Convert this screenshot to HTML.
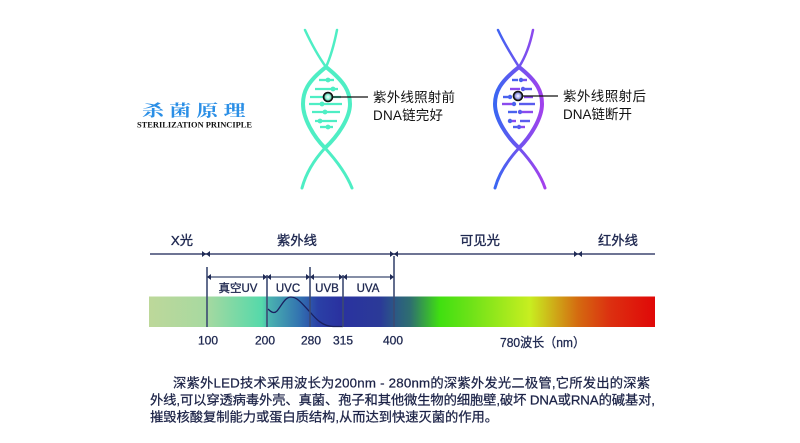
<!DOCTYPE html>
<html><head><meta charset="utf-8"><style>
html,body{margin:0;padding:0;background:#fff;}
svg{display:block;}
text{font-family:"Liberation Sans","Noto Sans CJK SC",sans-serif;}
</style></head><body>
<svg width="800" height="443" viewBox="0 0 800 443" xmlns="http://www.w3.org/2000/svg">
<defs>
<linearGradient id="spec" gradientUnits="userSpaceOnUse" x1="149" y1="0" x2="655" y2="0">
<stop offset="0" stop-color="#bdd89a"/>
<stop offset="0.111" stop-color="#a8d9a0"/>
<stop offset="0.223" stop-color="#55d9aa"/>
<stop offset="0.239" stop-color="#49b0b0"/>
<stop offset="0.298" stop-color="#3272b0"/>
<stop offset="0.334" stop-color="#2a40a6"/>
<stop offset="0.377" stop-color="#2a32a0"/>
<stop offset="0.457" stop-color="#2b3a98"/>
<stop offset="0.488" stop-color="#2b5a84"/>
<stop offset="0.516" stop-color="#2e6e70"/>
<stop offset="0.575" stop-color="#40e010"/>
<stop offset="0.634" stop-color="#6ce218"/>
<stop offset="0.753" stop-color="#c8ee20"/>
<stop offset="0.848" stop-color="#d46a10"/>
<stop offset="0.911" stop-color="#dc3010"/>
<stop offset="1" stop-color="#e00808"/>
</linearGradient>
<linearGradient id="dna2" gradientUnits="userSpaceOnUse" x1="495" y1="0" x2="545" y2="0">
<stop offset="0" stop-color="#3a66f2"/>
<stop offset="1" stop-color="#a640ec"/>
</linearGradient>
<radialGradient id="dot1"><stop offset="0" stop-color="#ffffff"/><stop offset="0.6" stop-color="#7ff0d0"/><stop offset="1" stop-color="#333"/></radialGradient>
<radialGradient id="dot2"><stop offset="0" stop-color="#ffffff"/><stop offset="0.6" stop-color="#9aa0f0"/><stop offset="1" stop-color="#333"/></radialGradient>
</defs>

<!-- Title -->
<g transform="translate(142,116) scale(1.15,0.85)">
<text x="0" y="0" font-size="19" font-weight="bold" fill="#2b8fe6" textLength="90" lengthAdjust="spacing" style="font-family:'Noto Serif CJK SC',serif;">杀菌原理</text>
</g>
<text x="137" y="127.5" font-size="8" font-weight="bold" fill="#111" textLength="115" lengthAdjust="spacingAndGlyphs" style="font-family:'Liberation Serif',serif;">STERILIZATION PRINCIPLE</text>

<!-- DNA 1 -->
<g fill="none" stroke="#4eeec4" stroke-linecap="round">
<path d="M305,30 C312,45 318,56 326,67" stroke-width="2.5"/>
<path d="M337,30 C334,45 331,56 326,67" stroke-width="2.5"/>
<path d="M326,67 C345,82 350,92 350,104 C350,118 338,136 325,148" stroke-width="4"/>
<path d="M326,67 C307,82 303,92 303,104 C303,118 313,136 325,148" stroke-width="4"/>
<path d="M325,148 C314,160 306,173 302,188" stroke-width="3"/>
<path d="M325,148 C336,160 346,173 352,188" stroke-width="3"/>
</g>
<g stroke="#4eeec4" stroke-width="2.3">
<line x1="319" y1="80" x2="334" y2="80"/>
<line x1="315" y1="89" x2="338" y2="89"/>
<line x1="310" y1="97" x2="341" y2="97"/>
<line x1="309" y1="104" x2="342" y2="104"/>
<line x1="312" y1="112" x2="340" y2="112"/>
<line x1="315" y1="121" x2="337" y2="121"/>
<line x1="320" y1="127" x2="333" y2="127"/>
</g>
<g fill="#4eeec4">
<circle cx="328" cy="80" r="2.4"/><circle cx="333" cy="89" r="2.4"/><circle cx="322" cy="104" r="2.4"/>
<circle cx="325" cy="112" r="2.4"/><circle cx="320" cy="121" r="2.4"/><circle cx="328" cy="127" r="2.4"/>
</g>
<circle cx="328" cy="97" r="4.5" fill="url(#dot1)" stroke="#111" stroke-width="1.6"/>
<line x1="332.5" y1="97" x2="368" y2="97" stroke="#111" stroke-width="1.2"/>
<text x="373" y="102" font-size="13.5" fill="#111" textLength="82" lengthAdjust="spacing">紫外线照射前</text>
<text x="373" y="120" font-size="13.5" fill="#111" textLength="70" lengthAdjust="spacing">DNA链完好</text>

<!-- DNA 2 -->
<g fill="none" stroke="url(#dna2)" stroke-linecap="round">
<path d="M498,30 C505,45 512,56 519,67" stroke-width="2.5"/>
<path d="M533,30 C530,45 526,56 519,67" stroke-width="2.5"/>
<path d="M519,67 C538,82 542,92 542,104 C542,118 531,136 519,148" stroke-width="4"/>
<path d="M519,67 C500,82 495,92 495,104 C495,118 506,136 519,148" stroke-width="4"/>
<path d="M519,148 C508,160 499,173 495,188" stroke-width="3"/>
<path d="M519,148 C530,160 540,173 545,188" stroke-width="3"/>
</g>
<g stroke-width="2.4">
<line x1="512" y1="80" x2="518" y2="80" stroke="#4a62ee"/><line x1="521" y1="80" x2="527" y2="80" stroke="#7a50ee"/>
<line x1="510" y1="89" x2="520" y2="89" stroke="#8a4aee"/><line x1="523" y1="89" x2="532" y2="89" stroke="#5a5cee"/>
<line x1="503" y1="97" x2="512" y2="97" stroke="#4a62ee"/><line x1="524" y1="97" x2="533" y2="97" stroke="#8a4aee"/>
<line x1="502" y1="104" x2="515" y2="104" stroke="#8a4aee"/><line x1="519" y1="104" x2="535" y2="104" stroke="#5a5cee"/>
<line x1="508" y1="112" x2="517" y2="112" stroke="#4a62ee"/><line x1="521" y1="112" x2="533" y2="112" stroke="#8a4aee"/>
<line x1="508" y1="121" x2="516" y2="121" stroke="#8a4aee"/><line x1="520" y1="121" x2="530" y2="121" stroke="#5a5cee"/>
<line x1="513" y1="127" x2="517" y2="127" stroke="#4a62ee"/><line x1="520" y1="127" x2="525" y2="127" stroke="#8a4aee"/>
</g>
<g>
<circle cx="521" cy="80" r="2.2" fill="#4a62ee"/><circle cx="523" cy="89" r="2.2" fill="#5a5cee"/><circle cx="510" cy="97" r="2.2" fill="#4a62ee"/>
<circle cx="514" cy="104" r="2.2" fill="#4a62ee"/><circle cx="520" cy="112" r="2.2" fill="#5a5cee"/><circle cx="510" cy="121" r="2.2" fill="#4a62ee"/><circle cx="519" cy="127" r="2.2" fill="#5a5cee"/>
</g>
<circle cx="518" cy="96" r="4.5" fill="url(#dot2)" stroke="#111" stroke-width="1.6"/>
<line x1="522.5" y1="96" x2="558" y2="96" stroke="#111" stroke-width="1.2"/>
<text x="563" y="101" font-size="13.5" fill="#111" textLength="83" lengthAdjust="spacing">紫外线照射后</text>
<text x="563" y="119" font-size="13.5" fill="#111" textLength="69" lengthAdjust="spacing">DNA链断开</text>

<!-- Spectrum headings -->
<g font-size="13.3" fill="#1f2850" stroke="#1f2850" stroke-width="0.35" text-anchor="middle">
<text x="182" y="245">X光</text>
<text x="297" y="245">紫外线</text>
<text x="480" y="245">可见光</text>
<text x="618" y="245">红外线</text>
</g>

<!-- Top line -->
<line x1="150" y1="254" x2="655" y2="254" stroke="#6e7494" stroke-width="2"/>
<g fill="#1f2a55">
<path d="M202,251 L206,254 L202,257 Z M210,251 L206,254 L210,257 Z"/>
<path d="M390,251 L394,254 L390,257 Z M398,251 L394,254 L398,257 Z"/>
<path d="M574,251 L578,254 L574,257 Z M582,251 L578,254 L582,257 Z"/>
</g>

<!-- Spectrum bar -->
<rect x="149" y="296.5" width="506" height="30.5" fill="url(#spec)"/>

<!-- Curve in UVC -->
<path d="M268,309 C271,312 274,314 277,311 C282,305 285,297 291,297 C298,297 304,306 310,312 C316,319 322,326 333,326.5 L343,326.5" fill="none" stroke="#1a2060" stroke-width="1.3"/>

<!-- vertical lines -->
<g stroke="#3c4a72" stroke-width="1.6">
<line x1="207" y1="267" x2="207" y2="327"/>
<line x1="267" y1="275" x2="267" y2="327"/>
<line x1="310" y1="267" x2="310" y2="327"/>
<line x1="343" y1="275" x2="343" y2="327"/>
<line x1="394" y1="256" x2="394" y2="327"/>
</g>

<!-- second line -->
<line x1="207" y1="277" x2="394" y2="277" stroke="#3c4a72" stroke-width="1.2"/>
<g fill="#1f2a55">
<path d="M207,277 L211,274 L211,280 Z"/>
<path d="M394,277 L390,274 L390,280 Z"/>
<path d="M263,274 L267,277 L263,280 Z M271,274 L267,277 L271,280 Z"/>
<path d="M306,274 L310,277 L306,280 Z M314,274 L310,277 L314,280 Z"/>
<path d="M339,274 L343,277 L339,280 Z M347,274 L343,277 L347,280 Z"/>
</g>

<g font-size="11.5" fill="#1f2850" stroke="#1f2850" stroke-width="0.3" text-anchor="middle">
<text x="238" y="292">真空UV</text>
<text x="288" y="292">UVC</text>
<text x="327" y="292">UVB</text>
<text x="368" y="292">UVA</text>
</g>

<!-- tick labels -->
<g font-size="12" fill="#1f2850" stroke="#1f2850" stroke-width="0.3" text-anchor="middle">
<text x="208" y="344.5">100</text>
<text x="265" y="344.5">200</text>
<text x="311" y="344.5">280</text>
<text x="343" y="344.5">315</text>
<text x="393" y="344.5">400</text>
</g>
<text x="500" y="347" font-size="13" fill="#1f2850" stroke="#1f2850" stroke-width="0.3" textLength="85" lengthAdjust="spacingAndGlyphs">780波长（nm）</text>

<!-- Paragraph -->
<g font-size="13.3" fill="#1c2347" stroke="#1c2347" stroke-width="0.25">
<text x="173" y="387.5" textLength="477" lengthAdjust="spacing">深紫外LED技术采用波长为200nm - 280nm的深紫外发光二极管,它所发出的深紫</text>
<text x="150" y="404.5" textLength="505" lengthAdjust="spacing">外线,可以穿透病毒外壳、真菌、孢子和其他微生物的细胞壁,破坏 DNA或RNA的碱基对,</text>
<text x="150" y="421.5" textLength="348" lengthAdjust="spacing">摧毁核酸复制能力或蛋白质结构,从而达到快速灭菌的作用。</text>
</g>
</svg>
</body></html>
